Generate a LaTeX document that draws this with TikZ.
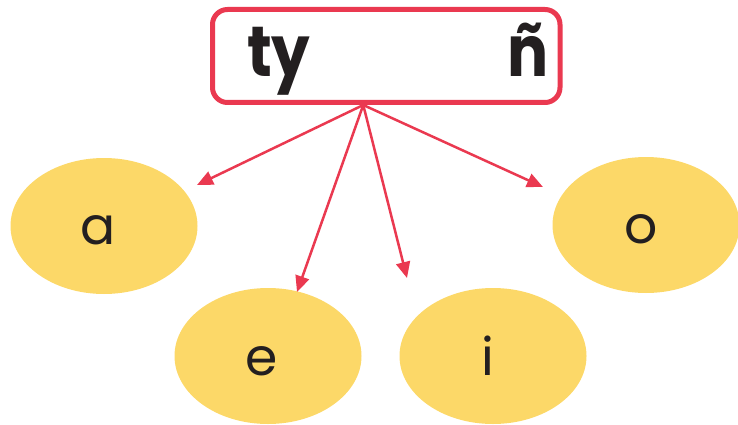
\documentclass[tikz,border=0pt]{standalone}
\usepackage{fontspec}
\setmainfont{Poppins}
\usetikzlibrary{arrows.meta,calc,shapes.geometric}
\definecolor{boxred}{RGB}{234,57,80}
\definecolor{vowelfill}{RGB}{252,216,104}
\definecolor{inkblack}{RGB}{35,31,32}

\begin{document}
\begin{tikzpicture}[x=1pt,y=-1pt,
  titlebox/.style={draw=boxred,line width=5pt,rounded corners=15pt,
    minimum width=347.5pt,minimum height=93pt,inner sep=0pt},
  vowel/.style={ellipse,fill=vowelfill,minimum width=187pt,
    minimum height=136pt,inner sep=0pt},
  bigtext/.style={font=\fontsize{71}{71}\selectfont\bfseries\addfontfeatures{FakeStretch=0.86},
    text=inkblack,inner sep=0pt},
  letter/.style={font=\fontsize{52}{52}\selectfont,text=inkblack,inner sep=0pt},
  link/.style={boxred,line width=2.5pt,-{Triangle[length=16pt,width=14pt]}}]
\useasboundingbox (0,0) rectangle (738,425);
% title box
\node[titlebox] (title) at (386.25,56) {};
\node[bigtext,anchor=base west] (ty) at (247,77) {ty};
\node[bigtext,anchor=base east] (enye) at (549,77) {ñ};
% vowels
\node[vowel] (a) at (104,226) {};
\node[vowel] (e) at (268,356) {};
\node[vowel] (i) at (493,356) {};
\node[vowel] (o) at (646,225) {};
\node[letter] (la) at ([shift={(-6,4)}]a.center) {a};
\node[letter] (le) at ([shift={(-6,5)}]e.center) {e};
\node[letter] (li) at ([shift={(-5,0)}]i.center) {i};
\node[letter] (lo) at ([shift={(-5,4)}]o.center) {o};
% arrows
\coordinate (root) at ($(title.south)+(-23,0)$);
\coordinate (tipa) at (197,185);
\coordinate (tipe) at (297,292);
\coordinate (tipi) at (407,278);
\coordinate (tipo) at (543,187);
\foreach \t in {tipa,tipe,tipi,tipo}
  \draw[link] (root) -- (\t);
\end{tikzpicture}
\end{document}
